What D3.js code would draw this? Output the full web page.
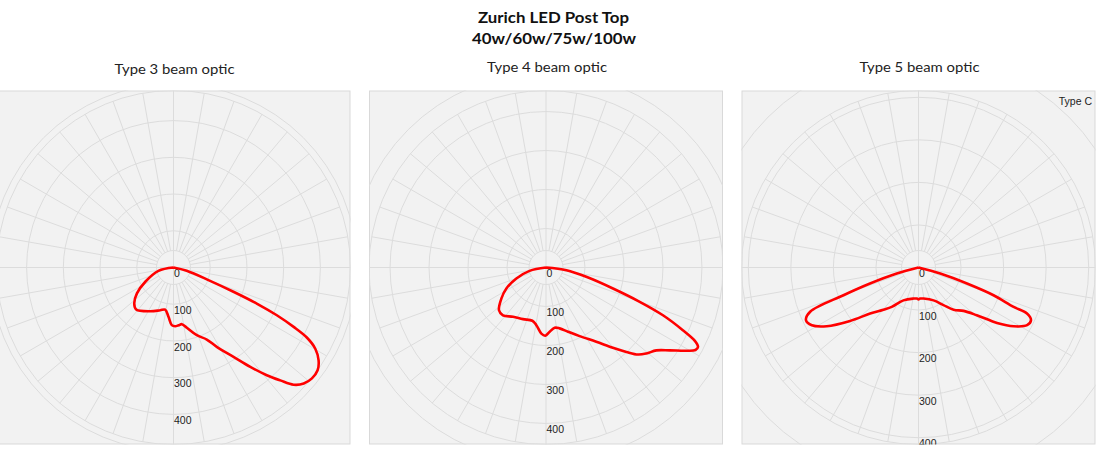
<!DOCTYPE html>
<html><head><meta charset="utf-8">
<script src="https://cdn.jsdelivr.net/npm/d3@7"></script>
<style>body{margin:0;background:#fff}svg{display:block}</style>
</head><body>
<svg id="chart" width="1096" height="469"></svg>
<script>
// ---- data ----
const chartTitle = ["Zurich LED Post Top", "40w/60w/75w/100w"];
const panelTitles = ["Type 3 beam optic", "Type 4 beam optic", "Type 5 beam optic"];
const cornerLabel = "Type C";
const radialTicks = [0, 100, 200, 300, 400];
const ringValues = [100, 200, 300, 400, 500];
const radialMax = [482, 454, 416];
const spokeAngles = d3.range(0, 360, 10);

// angles in degrees from nadir (negative = left), values in candela
const type3Angles = [-90, -77.6, -63.2, -54.7, -47.5, -41.6, -28, -17.3, -11.2, -5.8, -1.7, 1.6, 5, 8.4, 12.5, 19, 24.8, 28.6, 33.9, 37.7, 40.9, 43.4, 45.7, 48.3, 51.3, 54.5, 57.4, 60.2, 62.3, 63.7, 65.2, 66.6, 68, 70, 76, 90];
const type3Values = [0, 42, 86, 122, 145, 153, 135, 122, 117, 135, 157, 160, 158, 156, 168, 195, 216, 246, 293, 342, 388, 423, 457, 475, 483, 482, 469, 445, 410, 365, 310, 247, 176, 106, 37, 0];

const type4Angles = [-90, -78.5, -69.7, -62.1, -55.3, -47.7, -42, -33.8, -24, -14.4, -9.5, -4, -0.6, 3.3, 8.2, 12.6, 18.9, 26.1, 34.1, 39.8, 43.6, 46.6, 49.4, 53.1, 56.2, 59.3, 61.1, 62.4, 63.8, 65.4, 67.8, 69.9, 72.6, 77, 82.4, 90];
const type4Values = [0, 43, 81, 115, 139, 163, 165, 152, 145, 141, 150, 170, 175, 165, 156, 160, 174, 196, 230, 268, 299, 325, 339, 354, 382, 418, 438, 440, 425, 386, 324, 256, 180, 106, 53, 0];

const type5Angles = [-90, -74.5, -71.7, -69.7, -67.8, -64.9, -61.6, -57.4, -52, -46.4, -39.8, -34.2, -24.6, -9.2, -3, 0, 3, 9.2, 24.6, 33.6, 39.8, 46.1, 50.7, 54.8, 58.3, 62, 64.9, 67, 67.5, 69.7, 71.7, 74.5, 90];
const type5Values = [0, 53, 120, 188, 275, 292, 285, 256, 204, 157, 129, 112, 85, 74, 73, 75, 73, 74, 85, 106, 129, 147, 177, 226, 263, 289, 292, 277, 242, 188, 120, 53, 0];

const seriesAngles = [type3Angles, type4Angles, type5Angles];
const seriesValues = [type3Values, type4Values, type5Values];

// ---- layout ----
const svg = d3.select("#chart");
const panelSize = 354, R = 177, innerR = 17;
const cy = 267.5;
const panelX = d3.scalePoint().domain([0, 1, 2]).range([173.5, 918.5]);
const gridColor = "#dcdcdc";
const toRad = d => Math.PI - d * Math.PI / 180;

svg.append("text").attr("x", 553.5).attr("y", 22.5).attr("text-anchor", "middle")
  .attr("font-family", "Lato, 'DejaVu Sans', sans-serif").attr("font-weight", "bold")
  .attr("font-size", 16).attr("fill", "#111")
  .attr("textLength", 151).attr("lengthAdjust", "spacingAndGlyphs").text(chartTitle[0]);
svg.append("text").attr("x", 554).attr("y", 44).attr("text-anchor", "middle")
  .attr("font-family", "Lato, 'DejaVu Sans', sans-serif").attr("font-weight", "bold")
  .attr("font-size", 16).attr("fill", "#111")
  .attr("textLength", 164).attr("lengthAdjust", "spacingAndGlyphs").text(chartTitle[1]);

panelTitles.forEach((t, i) => {
  svg.append("text").attr("x", panelX(i) + 1).attr("y", i === 0 ? 73.5 : 71.5)
    .attr("text-anchor", "middle")
    .attr("font-family", "Lato, 'DejaVu Sans', sans-serif")
    .attr("font-size", 13).attr("fill", "#222")
    .attr("textLength", 120).attr("lengthAdjust", "spacingAndGlyphs").text(t);
});

const defs = svg.append("defs");

panelTitles.forEach((t, i) => {
  const cx = panelX(i);
  const x0 = cx - panelSize / 2, y0 = cy - panelSize / 2;
  defs.append("clipPath").attr("id", "clip" + i)
    .append("rect").attr("x", x0).attr("y", y0).attr("width", panelSize).attr("height", panelSize);

  svg.append("rect").attr("x", x0 + 0.5).attr("y", y0 + 0.5)
    .attr("width", panelSize - 1).attr("height", panelSize - 1)
    .attr("fill", "#f2f2f2").attr("stroke", "#d9d9d9").attr("stroke-width", 1);

  const g = svg.append("g").attr("clip-path", `url(#clip${i})`)
    .append("g").attr("transform", `translate(${cx},${cy})`);

  const r = d3.scaleLinear().domain([0, radialMax[i]]).range([0, R]);

  // rings
  g.selectAll("circle.ring").data(ringValues).join("circle")
    .attr("class", "ring").attr("r", d => r(d))
    .attr("fill", "none").attr("stroke", gridColor).attr("stroke-width", 1);
  g.append("circle").attr("r", innerR).attr("fill", "none").attr("stroke", gridColor);
  g.append("circle").attr("r", R).attr("fill", "none").attr("stroke", gridColor);

  // spokes
  g.selectAll("line.spoke").data(spokeAngles).join("line")
    .attr("class", "spoke")
    .each(function(a) {
      const rad = a * Math.PI / 180;
      const start = (a % 90 === 0) ? 0 : innerR;
      const p0 = d3.pointRadial(rad, start), p1 = d3.pointRadial(rad, R);
      d3.select(this).attr("x1", p0[0]).attr("y1", p0[1]).attr("x2", p1[0]).attr("y2", p1[1]);
    })
    .attr("stroke", gridColor).attr("stroke-width", 1);

  // tick labels
  g.selectAll("text.tick").data(radialTicks).join("text")
    .attr("class", "tick").attr("x", 0.5).attr("y", d => r(d) + 9.7)
    .attr("font-family", "'Liberation Sans', Arial, sans-serif")
    .attr("font-size", 10.5).attr("fill", "#222").text(d => d);

  // curve
  const pts = seriesAngles[i].map((a, k) => [a, seriesValues[i][k]]);
  const line = d3.lineRadial()
    .angle(d => toRad(d[0])).radius(d => r(d[1]))
    .curve(d3.curveCatmullRom.alpha(0.5));
  g.append("path").attr("d", line(pts)).attr("fill", "none")
    .attr("stroke", "#ff0000").attr("stroke-width", 2.6).attr("stroke-linejoin", "round");
});

svg.append("text").attr("x", 1092).attr("y", 104.5).attr("text-anchor", "end")
  .attr("font-family", "'Liberation Sans', Arial, sans-serif")
  .attr("font-size", 10.5).attr("fill", "#222").text(cornerLabel);
</script>
</body></html>
